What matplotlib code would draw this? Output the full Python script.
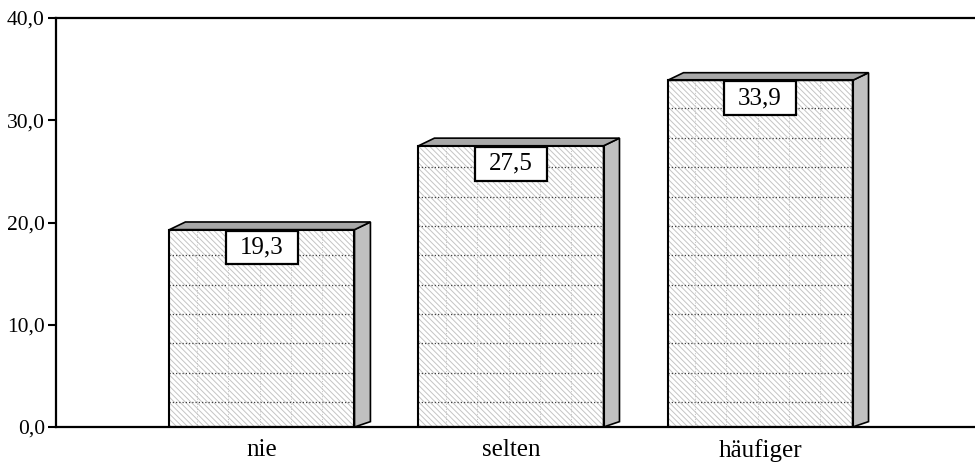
import matplotlib
matplotlib.use("Agg")
import matplotlib.pyplot as plt
from matplotlib.patches import Polygon, Rectangle
import numpy as np

categories = ["nie", "selten", "häufiger"]
values = [19.3, 27.5, 33.9]
value_labels = ["19,3", "27,5", "33,9"]
y_ticks = [0, 10, 20, 30, 40]
y_tick_labels = ["0,0", "10,0", "20,0", "30,0", "40,0"]

plt.rcParams['font.family'] = ['Liberation Serif', 'DejaVu Serif']
plt.rcParams['hatch.linewidth'] = 0.7

W, H = 975, 467
fig = plt.figure(figsize=(W / 100, H / 100), dpi=100)
ax = fig.add_axes([56 / W, 40 / H, 1 - 56 / W, (427 - 18) / H])

x = np.arange(len(categories))
width = 0.743
ax.set_xlim(-0.827, 2.863)
ax.set_ylim(0, 40)

# front faces: fine light diagonal texture
ax.bar(x, values, width, color='white', edgecolor='#c4c4c4',
       hatch='\\' * 6, linewidth=0, zorder=2)

# depth of the pseudo-3D blocks (data units)
dx, dy = 0.064, 0.75

for xi, v in zip(x, values):
    x0, x1 = xi - width / 2, xi + width / 2
    # dotted texture grid on the front face
    for yy in np.arange(2.45, v - 0.3, 2.87):
        ax.plot([x0, x1], [yy, yy], color='#404040', lw=0.9,
                ls=(0, (1, 1.6)), zorder=3)
    for xx in np.arange(x0 + 0.11, x1 - 0.02, 0.126):
        ax.plot([xx, xx], [0, v], color='#c0c0c0', lw=0.7,
                ls=(0, (1, 1.6)), zorder=3)
    # side face
    side = Polygon([(x1, 0), (x1 + dx, dy * 0.7), (x1 + dx, v + dy), (x1, v)],
                   closed=True, facecolor='#c0c0c0', edgecolor='black',
                   lw=1.2, zorder=3)
    ax.add_patch(side)
    # top face
    top = Polygon([(x0, v), (x0 + dx, v + dy), (x1 + dx, v + dy), (x1, v)],
                  closed=True, facecolor='#a8a8a8', edgecolor='black',
                  lw=1.2, zorder=3)
    ax.add_patch(top)

# front face outlines
ax.bar(x, values, width, fill=False, edgecolor='black', linewidth=1.5, zorder=4)

# value boxes
box_w, box_h = 0.287, 3.3
for xi, v, lab in zip(x, values, value_labels):
    ax.add_patch(Rectangle((xi - box_w / 2, v - 0.1 - box_h), box_w, box_h,
                           facecolor='white', edgecolor='black', lw=1.6, zorder=5))
    ax.text(xi, v - 0.1 - box_h / 2, lab, ha='center', va='center',
            fontsize=18, zorder=6)

ax.set_yticks(y_ticks)
ax.set_yticklabels(y_tick_labels)
ax.set_xticks(x)
ax.set_xticklabels(categories)
ax.tick_params(axis='y', direction='out', length=6, width=1.5,
               labelsize=15.5, pad=2)
ax.tick_params(axis='x', length=0, labelsize=18, pad=9)

ax.spines['right'].set_visible(False)
for s in ('left', 'top', 'bottom'):
    ax.spines[s].set_linewidth(1.6)

fig.savefig("out.png", dpi=100)
